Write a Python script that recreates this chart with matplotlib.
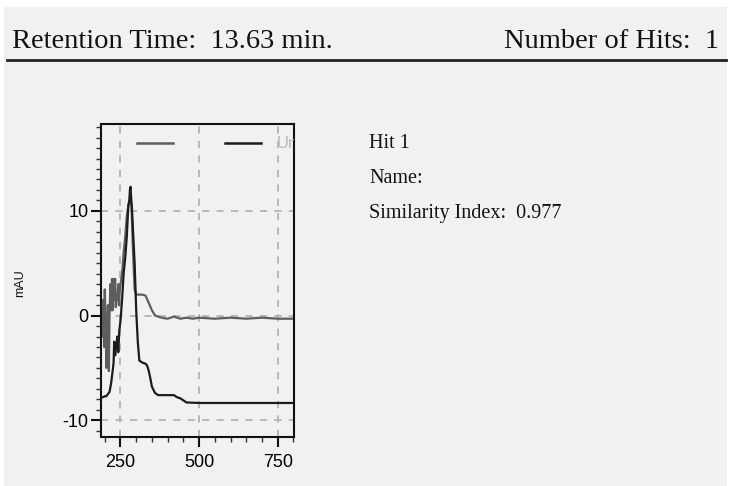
import matplotlib

matplotlib.use("Agg")
import matplotlib.pyplot as plt
from matplotlib.patches import Rectangle
from matplotlib.lines import Line2D
from matplotlib.ticker import MultipleLocator, FixedLocator

# Library spectrum (gray) and sample spectrum (black), wavelength in nm vs mAU
gray_nm = [190, 193, 195, 198, 200, 203, 205, 208, 210, 213, 215, 218, 220, 223,
           225, 228, 230, 233, 235, 238, 240, 243, 245, 248, 250, 255, 260, 265,
           270, 275, 280, 285, 290, 295, 300, 310, 320, 330, 340, 350, 360, 370,
           380, 400, 420, 440, 460, 480, 500, 550, 600, 650, 700, 750, 800]
gray_mau = [0.5, -2.0, 1.5, -3.0, 2.5, -1.5, -5.0, -1.0, 1.0, -5.3, 0.0, 3.0, 0.5, 3.5,
            0.5, 3.5, 1.5, 3.5, 0.8, 2.0, 1.5, 3.0, 1.0, 2.5, 3.0, 4.0, 6.0, 7.5,
            9.5, 10.5, 11.0, 10.5, 6.0, 2.5, 2.0, 2.0, 2.0, 1.9, 1.2, 0.5, 0.0, -0.1,
            -0.2, -0.3, -0.1, -0.3, -0.2, -0.3, -0.2, -0.3, -0.2, -0.3, -0.2, -0.3, -0.3]

black_nm = [190, 195, 200, 205, 210, 215, 220, 225, 228, 230, 233, 236, 240, 243, 246,
            250, 255, 260, 265, 270, 275, 278, 280, 282, 284, 286, 290, 295, 300, 305,
            310, 320, 330, 335, 340, 345, 350, 360, 370, 380, 400, 420, 430, 440, 450,
            460, 500, 600, 700, 800]
black_mau = [-7.8, -7.8, -7.7, -7.7, -7.5, -7.3, -6.5, -5.3, -4.5, -2.5, -3.8, -3.0, -2.0,
             -3.5, -1.5, -0.5, 1.5, 4.0, 5.5, 7.5, 10.5, 11.0, 12.0, 12.3, 11.2, 10.5,
             8.0, 5.0, 0.5, -2.5, -4.3, -4.5, -4.6, -4.8, -5.3, -6.0, -6.8, -7.4, -7.6,
             -7.6, -7.6, -7.6, -7.8, -7.9, -8.1, -8.3, -8.35, -8.35, -8.35, -8.35]

x_ticks = [250, 500, 750]
y_ticks = [-10, 0, 10]

retention_time = 13.63
n_hits = 1
hit_number = 1
similarity = 0.977

BG = "#f1f1f1"
SERIF = ["Liberation Serif", "DejaVu Serif"]
NARROW = ["Liberation Sans Narrow", "Liberation Sans", "DejaVu Sans"]

W, H = 731, 486
fig = plt.figure(figsize=(W / 100, H / 100), dpi=100)
fig.patch.set_facecolor("white")


def fx(px):
    return px / W


def fy(py):
    return 1 - py / H


# panel background and header rule
fig.add_artist(Rectangle((fx(4), 0), fx(723), fy(7), transform=fig.transFigure,
                         facecolor=BG, edgecolor="none", zorder=-5))
fig.add_artist(Line2D([fx(7), fx(726)], [fy(60), fy(60)], transform=fig.transFigure,
                      color="#222222", linewidth=2.0))

fig.text(fx(12), fy(48), f"Retention Time:  {retention_time:.2f} min.", family=SERIF,
         fontsize=20.5, ha="left", va="baseline", color="#111111")
fig.text(fx(719), fy(48), f"Number of Hits:  {n_hits}", family=SERIF,
         fontsize=20.5, ha="right", va="baseline", color="#111111")

fig.text(fx(369), fy(148), f"Hit {hit_number}", family=SERIF, fontsize=14.5,
         va="baseline", color="#111111")
fig.text(fx(369), fy(183), "Name:", family=SERIF, fontsize=14.5,
         va="baseline", color="#111111")
fig.text(fx(369), fy(218), f"Similarity Index:  {similarity:.3f}", family=SERIF,
         fontsize=14.5, va="baseline", color="#111111")

ax = fig.add_axes([fx(101), fy(437), fx(193), 313 / H])
ax.set_facecolor(BG)
ax.set_xlim(188, 802)
ax.set_ylim(-11.6, 18.3)

for x in x_ticks:
    ax.axvline(x, color="#b4b4b4", linestyle=(0, (4, 4)), linewidth=1.3, zorder=1)
for y in y_ticks:
    ax.axhline(y, color="#b4b4b4", linestyle=(0, (4, 4)), linewidth=1.3, zorder=1)

ax.plot(black_nm, black_mau, color="#1c1c1c", linewidth=1.6, zorder=3)
ax.plot(gray_nm, gray_mau, color="#5e5e5e", linewidth=1.6, zorder=2)

# legend strip along the top
ax.plot([0.187, 0.373], [0.939, 0.939], transform=ax.transAxes, color="#5e5e5e",
        linewidth=1.8)
ax.plot([0.642, 0.829], [0.939, 0.939], transform=ax.transAxes, color="#1c1c1c",
        linewidth=1.8)
ax.text(0.912, 0.939, "Un", transform=ax.transAxes, family=NARROW, fontsize=12,
        color="#b8b8b8", va="center", ha="left", clip_on=True)

for side in ax.spines.values():
    side.set_color("#111111")
    side.set_linewidth(1.5)

ax.xaxis.set_major_locator(FixedLocator(x_ticks))
ax.xaxis.set_minor_locator(MultipleLocator(50))
ax.yaxis.set_major_locator(FixedLocator(y_ticks))
ax.yaxis.set_minor_locator(MultipleLocator(1))
ax.tick_params(which="major", length=7, width=1.5, color="#111111")
ax.tick_params(axis="y", which="major", pad=2)
ax.tick_params(axis="x", which="major", pad=5)
ax.tick_params(which="minor", length=3.5, width=1.0, color="#333333")
ax.set_xticklabels([str(v) for v in x_ticks], family=NARROW, fontsize=13)
ax.set_yticklabels([str(v) for v in y_ticks], family=NARROW, fontsize=13)

fig.text(fx(20), fy(283), "mAU", family=NARROW, fontsize=9, rotation=90,
         ha="center", va="center", color="#111111")

fig.savefig("out.png", dpi=100, facecolor=fig.get_facecolor())
